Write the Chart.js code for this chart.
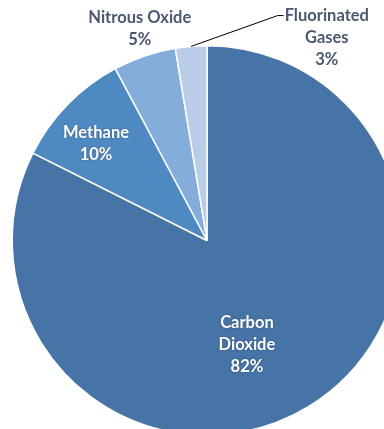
<!DOCTYPE html>
<html><head><meta charset="utf-8">
<script src="https://cdn.jsdelivr.net/npm/chart.js@4.4.0/dist/chart.umd.min.js"></script>
<style>
html,body{margin:0;padding:0;background:#fff;overflow:hidden;width:384px;height:429px;}
#wrap{position:relative;width:414px;height:436px;}
</style></head>
<body>
<div id="wrap"><canvas id="c" width="414" height="436"></canvas></div>
<script>
const categories = ["Carbon Dioxide", "Methane", "Nitrous Oxide", "Fluorinated Gases"];
const labelLines = [["Carbon", "Dioxide"], ["Methane"], ["Nitrous Oxide"], ["Fluorinated", "Gases"]];
const shares = [82.4, 9.8, 5.2, 2.6];
const percentText = ["82%", "10%", "5%", "3%"];
const colors = ["#4674A6", "#4F89C2", "#84ADDB", "#B9CDE6"];

// label placement relative to pie center, in units of radius (dx, dy of first line), inside flag
const labelPos = [
  {dx: 0.205, dy: 0.42, inside: true},
  {dx: -0.57, dy: -0.555, inside: true},
  {dx: -0.345, dy: -1.144, inside: false},
  {dx: 0.615, dy: -1.155, inside: false}
];

const labelPlugin = {
  id: 'labels',
  afterDatasetsDraw(chart) {
    const ctx = chart.ctx;
    const arc = chart.getDatasetMeta(0).data[0];
    const cx = arc.x, cy = arc.y, r = arc.outerRadius;
    ctx.save();
    ctx.font = "bold 16.5px Lato, 'Open Sans', sans-serif";
    ctx.textAlign = "center";
    ctx.textBaseline = "middle";
    const lh = 22;
    labelPos.forEach((p, i) => {
      const lines = labelLines[i].concat([percentText[i]]);
      const x = cx + p.dx * r, y0 = cy + p.dy * r;
      lines.forEach((t, k) => {
        const y = y0 + k * lh;
        if (p.inside) {
          ctx.shadowColor = "rgba(0,0,0,0.35)";
          ctx.shadowBlur = 2;
          ctx.fillStyle = "#ffffff";
        } else {
          ctx.shadowColor = "transparent";
          ctx.shadowBlur = 0;
          ctx.fillStyle = "#4A5870";
        }
        ctx.fillText(t, x, y);
      });
    });
    // leader line for fluorinated gases
    const fa = chart.getDatasetMeta(0).data[3];
    const mid = (fa.startAngle + fa.endAngle) / 2;
    const sx = cx + Math.cos(mid) * r, sy = cy + Math.sin(mid) * r;
    const lp = labelPos[3];
    const tw = ctx.measureText(labelLines[3][0]).width;
    const ex = cx + lp.dx * r - tw / 2 - 1, ey = cy + lp.dy * r;
    ctx.shadowColor = "transparent";
    ctx.strokeStyle = "#000";
    ctx.lineWidth = 1;
    ctx.beginPath();
    ctx.moveTo(sx, sy);
    ctx.lineTo(ex - 6, ey);
    ctx.lineTo(ex, ey);
    ctx.stroke();
    ctx.restore();
  }
};

new Chart(document.getElementById('c'), {
  type: 'pie',
  data: {
    labels: categories,
    datasets: [{
      data: shares,
      backgroundColor: colors,
      borderColor: "#ffffff",
      borderWidth: 1.5
    }]
  },
  options: {
    responsive: false,
    animation: false,
    layout: {padding: {top: 45, left: 0, right: 0, bottom: 0}},
    plugins: {legend: {display: false}, tooltip: {enabled: false}}
  },
  plugins: [labelPlugin]
});
</script>
</body></html>
